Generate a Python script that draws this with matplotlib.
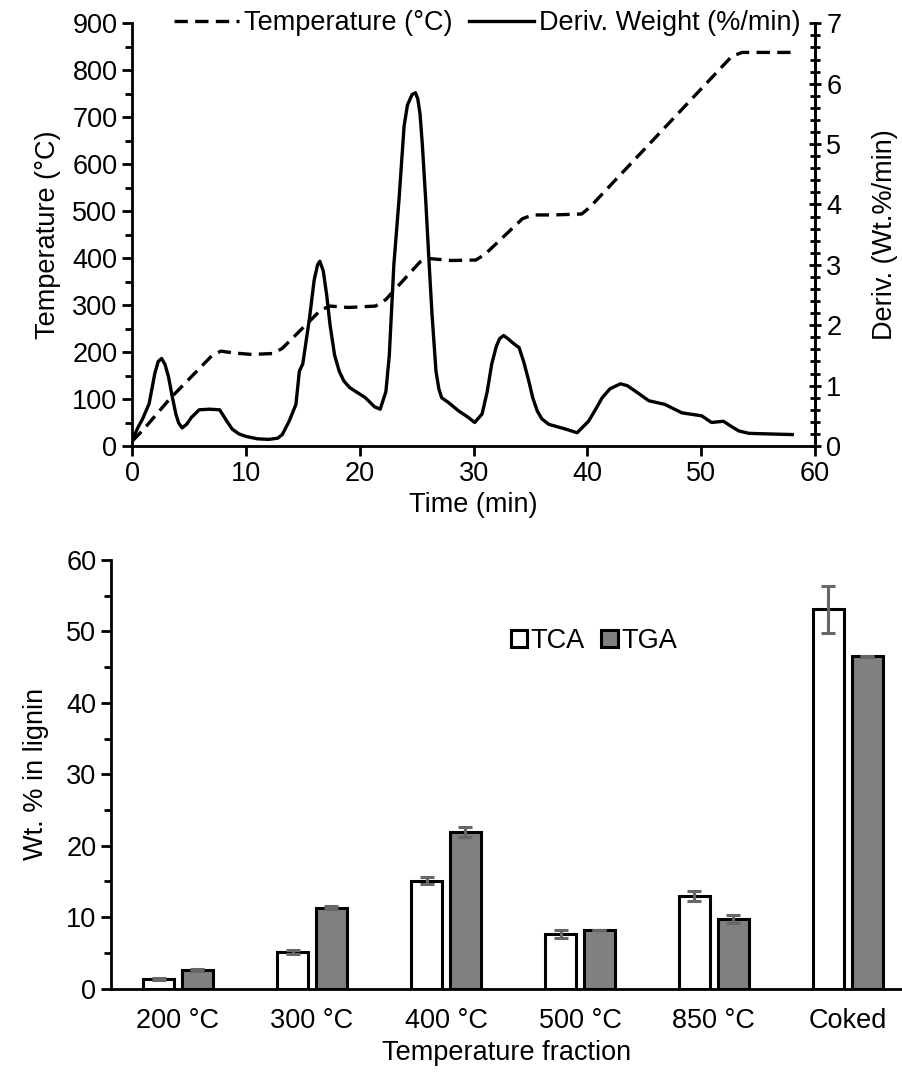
import matplotlib
matplotlib.use("Agg")
import matplotlib.pyplot as plt
from matplotlib.ticker import MultipleLocator
import numpy as np

plt.rcParams['font.family'] = ['Liberation Sans', 'DejaVu Sans']
plt.rcParams['font.size'] = 19.5

# Top chart: TGA run
temp_time = [0, 1, 3.3, 7.0, 7.8, 9, 10.5, 12.4, 13.2, 16.6, 17.4, 19, 21.4, 22.3, 25.3, 26.2, 28, 30.2, 31.0, 34.3, 35.2, 37, 39.5, 40.2, 52.7, 53.6, 56, 58.0]
temp_vals = [10, 35, 100, 192, 202, 198, 195, 197, 208, 290, 298, 295, 298, 312, 392, 399, 395, 396, 408, 484, 492, 492, 494, 508, 830, 838, 838, 838]

deriv_time = [0, 0.5, 0.93, 1.5, 2.0, 2.3, 2.6, 2.9, 3.2, 3.5, 3.85, 4.1, 4.4, 4.8, 5.2, 5.9, 6.8, 7.7, 8.3, 8.8, 9.4, 10.0, 11.0, 12.0, 12.8, 13.2, 13.8, 14.4, 14.7, 15.0, 15.6, 16.0, 16.3, 16.5, 16.8, 17.1, 17.4, 17.8, 18.2, 18.6, 19.1, 20.5, 21.3, 21.8, 22.3, 22.6, 23.0, 23.45, 23.9, 24.2, 24.6, 24.9, 25.1, 25.3, 25.5, 25.8, 26.1, 26.35, 26.7, 26.95, 27.2, 27.8, 28.7, 29.5, 30.1, 30.75, 31.2, 31.6, 32.0, 32.3, 32.65, 33.0, 33.5, 34.0, 34.4, 34.85, 35.2, 35.6, 36.0, 36.6, 38.1, 39.1, 40.1, 40.7, 41.3, 42.0, 42.9, 43.5, 44.2, 45.4, 46.8, 48.3, 50.05, 50.9, 51.95, 52.6, 53.3, 54.2, 56.0, 58.0]
deriv_vals = [0.08, 0.3, 0.45, 0.7, 1.2, 1.4, 1.45, 1.35, 1.15, 0.85, 0.53, 0.38, 0.30, 0.36, 0.47, 0.60, 0.61, 0.60, 0.42, 0.28, 0.2, 0.16, 0.12, 0.11, 0.13, 0.19, 0.41, 0.69, 1.24, 1.36, 2.13, 2.75, 3.0, 3.06, 2.9, 2.5, 2.0, 1.5, 1.24, 1.08, 0.97, 0.80, 0.65, 0.61, 0.9, 1.5, 3.0, 4.07, 5.3, 5.65, 5.82, 5.85, 5.75, 5.5, 5.0, 4.07, 3.02, 2.19, 1.24, 0.95, 0.80, 0.72, 0.58, 0.48, 0.39, 0.53, 0.9, 1.36, 1.65, 1.78, 1.83, 1.78, 1.7, 1.63, 1.4, 1.08, 0.8, 0.58, 0.45, 0.36, 0.28, 0.22, 0.41, 0.6, 0.8, 0.95, 1.03, 1.0, 0.91, 0.75, 0.69, 0.55, 0.50, 0.39, 0.41, 0.33, 0.25, 0.21, 0.2, 0.19]

# Bottom chart: fractions
fractions = ['200 °C', '300 °C', '400 °C', '500 °C', '850 °C', 'Coked']
tca = [1.3, 5.1, 15.1, 7.6, 12.9, 53.1]
tca_err = [0.15, 0.3, 0.5, 0.55, 0.7, 3.3]
tga = [2.6, 11.3, 21.9, 8.2, 9.7, 46.5]
tga_err = [0.15, 0.2, 0.7, 0.05, 0.55, 0.1]

fig = plt.figure(figsize=(9.03, 10.74), dpi=100)

# ---- top panel
ax1 = fig.add_axes([0.1462, 0.5847, 0.7564, 0.3936])
l1, = ax1.plot(temp_time, temp_vals, color='black', lw=2.4, linestyle=(0, (4, 2.2)),
               dash_joinstyle='round', label='Temperature (°C)')
ax1.set_xlim(0, 60)
ax1.set_ylim(0, 900)
ax1.xaxis.set_major_locator(MultipleLocator(10))
ax1.yaxis.set_major_locator(MultipleLocator(100))
ax1.yaxis.set_minor_locator(MultipleLocator(50))
ax1.set_xlabel('Time (min)', labelpad=4)
ax1.set_ylabel('Temperature (°C)', labelpad=8)
ax1.spines['top'].set_visible(False)
for s in ['left', 'bottom', 'right']:
    ax1.spines[s].set_linewidth(2)
ax1.tick_params(which='major', direction='out', length=7, width=2)
ax1.tick_params(which='minor', direction='out', length=5, width=2)

ax2 = ax1.twinx()
l2, = ax2.plot(deriv_time, deriv_vals, color='black', lw=2.4, solid_joinstyle='round',
               label='Deriv. Weight (%/min)')
ax2.set_ylim(0, 7)
ax2.yaxis.set_major_locator(MultipleLocator(1))
ax2.yaxis.set_minor_locator(MultipleLocator(0.2))
ax2.set_ylabel('Deriv. (Wt.%/min)', labelpad=22)
ax2.spines['top'].set_visible(False)
ax2.spines['right'].set_linewidth(2)
ax2.tick_params(which='major', direction='inout', length=9, width=2)
ax2.tick_params(which='minor', direction='inout', length=7, width=2)

ax1.legend(handles=[l1, l2], loc='center', bbox_to_anchor=(0.52, 1.0), ncol=2,
           frameon=False, handlelength=2.4, handletextpad=0.2, columnspacing=0.6,
           borderaxespad=0, borderpad=0)

# ---- bottom panel
ax3 = fig.add_axes([0.1229, 0.0796, 0.877, 0.399])
x = np.arange(len(fractions))
w = 0.235
ekw = dict(ecolor='#666666', elinewidth=2.2, capthick=2.2)
ax3.bar(x - 0.145, tca, w, color='white', edgecolor='black', linewidth=2.2,
        yerr=tca_err, capsize=5, error_kw=ekw, label='TCA')
ax3.bar(x + 0.145, tga, w, color='#808080', edgecolor='black', linewidth=2.2,
        yerr=tga_err, capsize=5, error_kw=ekw, label='TGA')
ax3.set_xlim(-0.5, -0.5 + 792 / 134)
ax3.set_ylim(0, 60)
ax3.set_xticks(x)
ax3.set_xticklabels(fractions)
ax3.yaxis.set_major_locator(MultipleLocator(10))
ax3.yaxis.set_minor_locator(MultipleLocator(5))
ax3.tick_params(axis='x', length=0, pad=14)
ax3.tick_params(axis='y', which='major', direction='out', length=7, width=2)
ax3.tick_params(axis='y', which='minor', direction='out', length=5, width=2)
ax3.spines['top'].set_visible(False)
ax3.spines['right'].set_visible(False)
ax3.spines['left'].set_linewidth(2)
ax3.spines['bottom'].set_linewidth(2)
ax3.set_xlabel('Temperature fraction', labelpad=4)
ax3.set_ylabel('Wt. % in lignin', labelpad=12)
ax3.legend(loc='center', bbox_to_anchor=(0.61, 0.81), ncol=2, frameon=False,
           handlelength=0.6, handleheight=0.6, handletextpad=0.15, columnspacing=0.6)

fig.savefig('out.png', dpi=100)
